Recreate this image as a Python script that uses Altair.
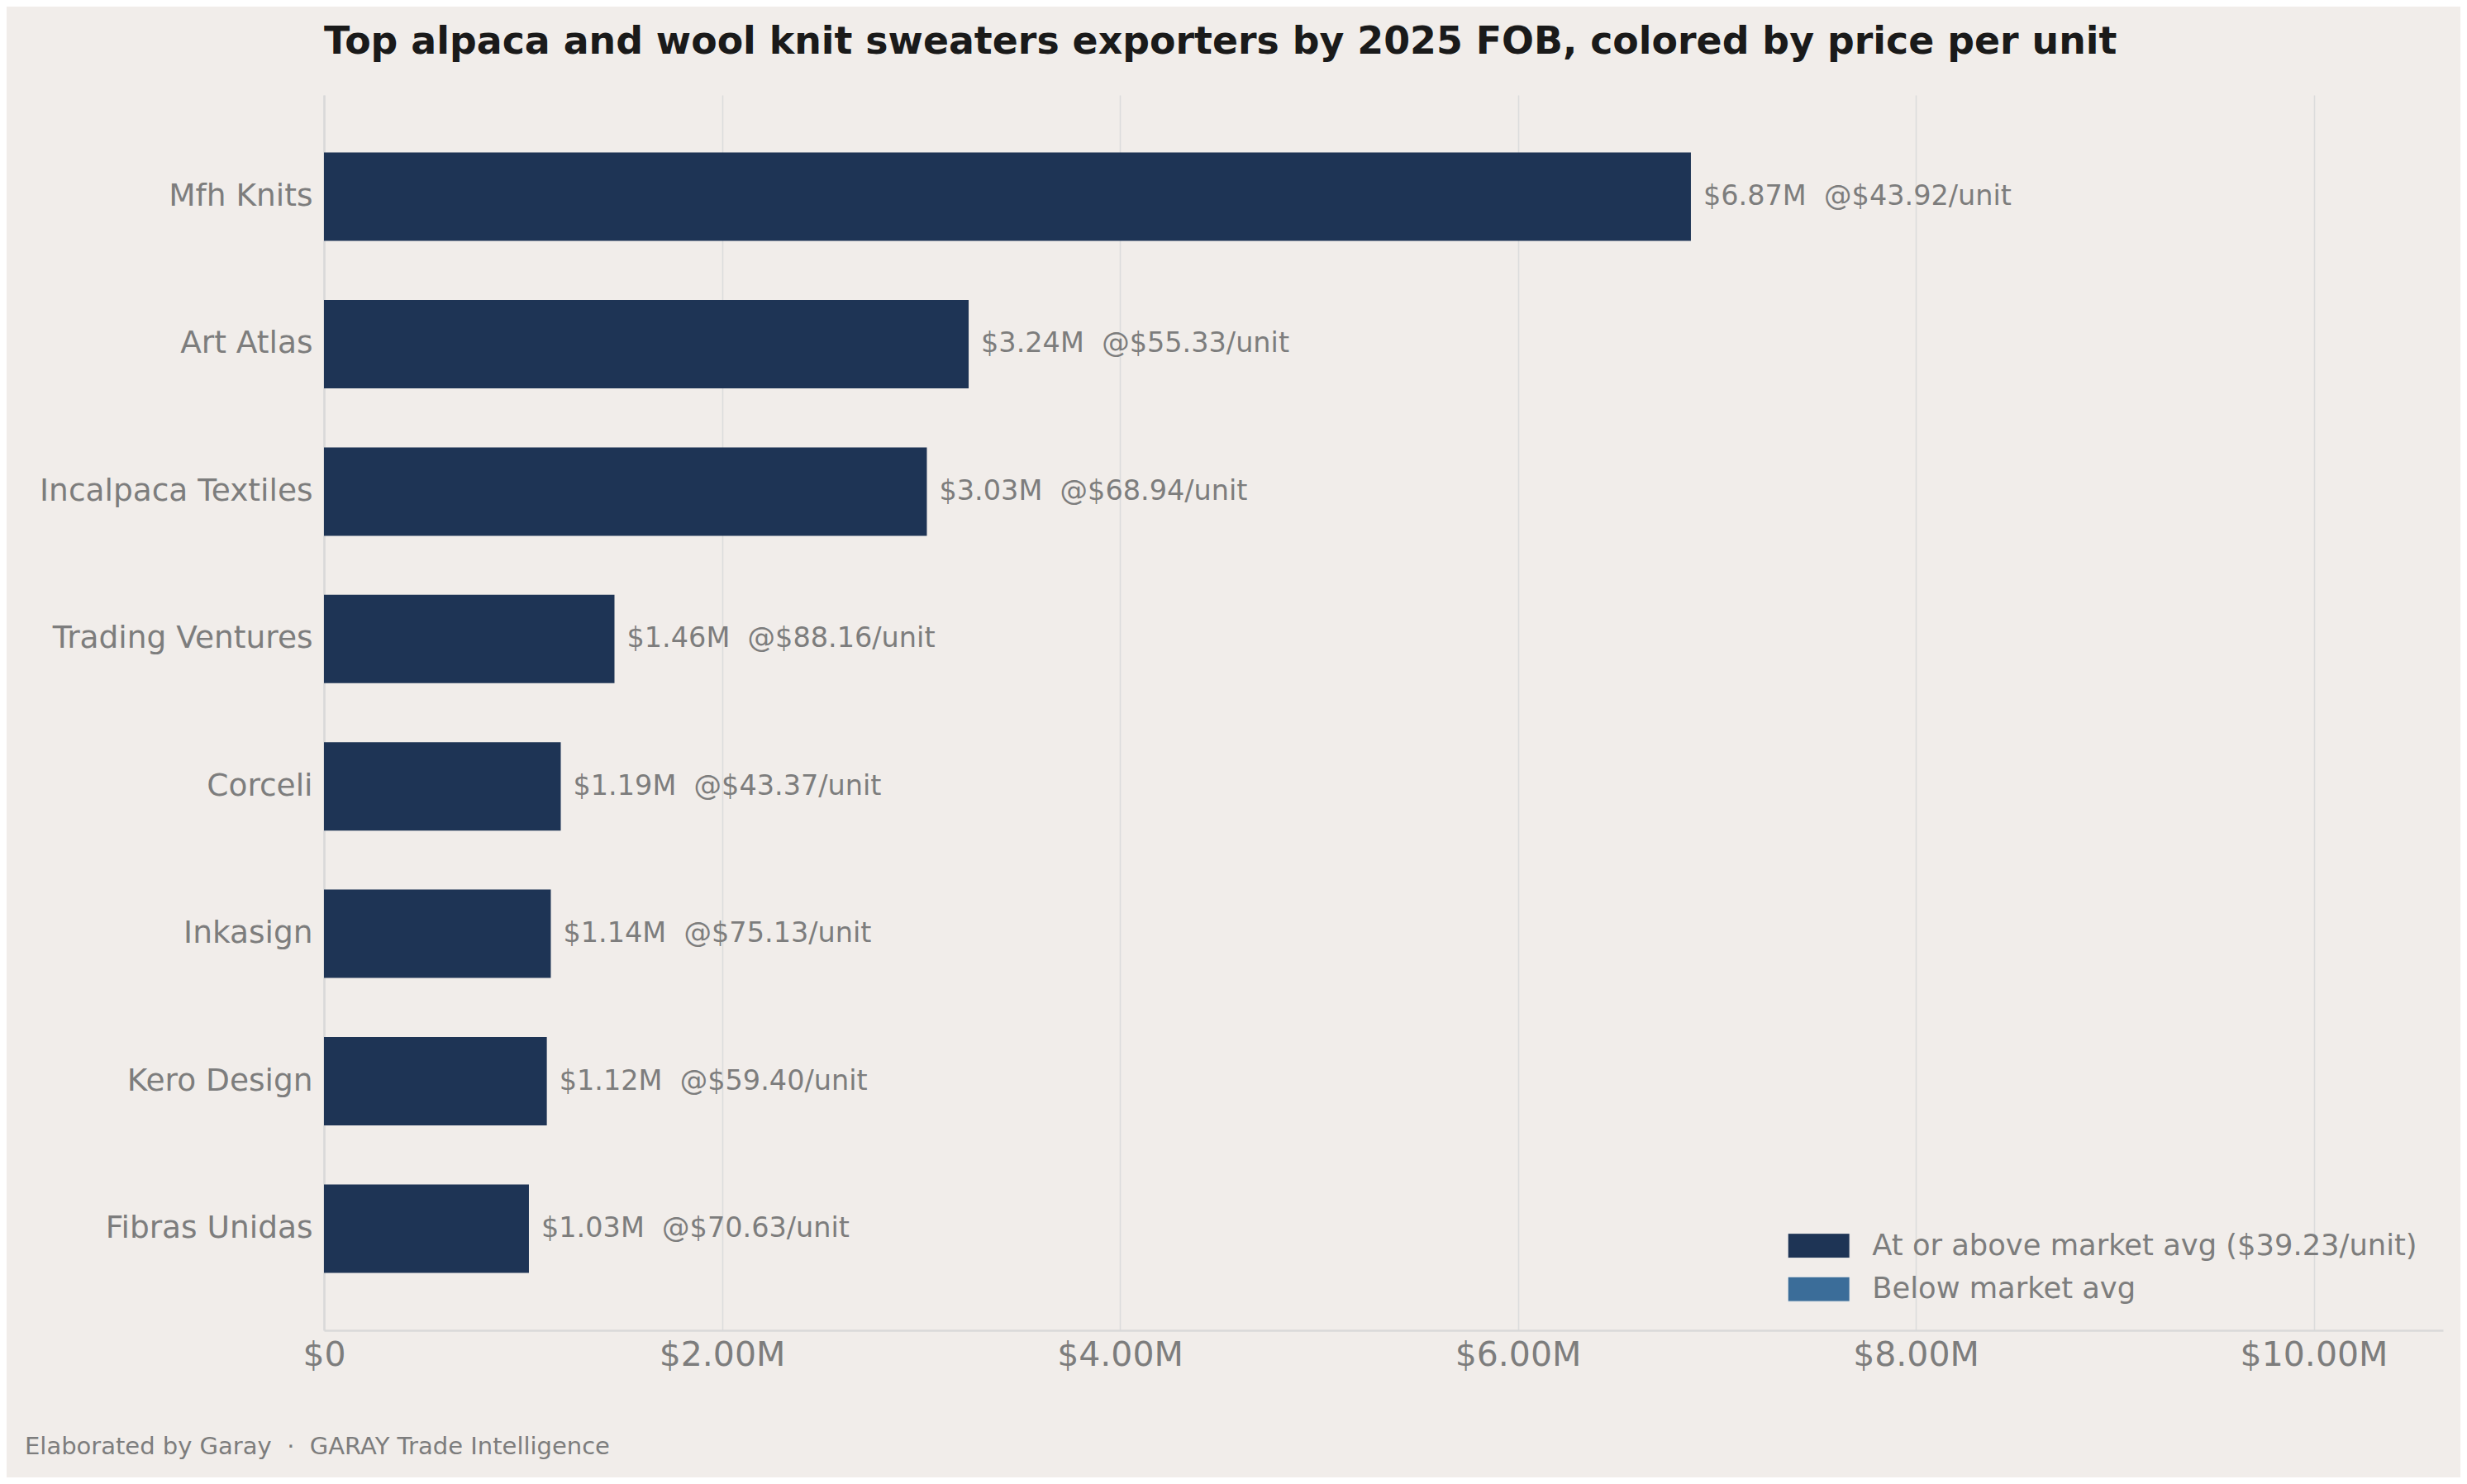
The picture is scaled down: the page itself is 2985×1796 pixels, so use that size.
import altair as alt
import pandas as pd

companies = ["Mfh Knits", "Art Atlas", "Incalpaca Textiles", "Trading Ventures",
             "Corceli", "Inkasign", "Kero Design", "Fibras Unidas"]
fob_musd = [6.87, 3.24, 3.03, 1.46, 1.19, 1.14, 1.12, 1.03]
price_per_unit = [43.92, 55.33, 68.94, 88.16, 43.37, 75.13, 59.40, 70.63]
market_avg = 39.23
x_ticks_musd = [0, 2, 4, 6, 8, 10]

above_label = f"At or above market avg (${market_avg:.2f}/unit)"
below_label = "Below market avg"

df = pd.DataFrame({
    "company": companies,
    "fob": [v * 1e6 for v in fob_musd],
    "price": price_per_unit,
})
df["group"] = [above_label if p >= market_avg else below_label for p in price_per_unit]
df["label"] = [f"${v:.2f}M \u00a0@${p:.2f}/unit" for v, p in zip(fob_musd, price_per_unit)]

footer_df = pd.DataFrame({"t": ["Elaborated by Garay \u00a0·\u00a0 GARAY Trade Intelligence"]})

TEXT_GRAY = "#7d7d7d"
FONT = "DejaVu Sans"

y_enc = alt.Y("company:N", sort=companies, title=None,
              scale=alt.Scale(paddingInner=0.4, paddingOuter=0.39),
              axis=alt.Axis(labelFontSize=37.5, labelColor=TEXT_GRAY, labelFont=FONT,
                            labelPadding=14, labelLimit=1000, ticks=False, domain=True,
                            domainColor="#d9d9d9", domainWidth=2.5, grid=False))
x_enc = alt.X("fob:Q", title=None,
              scale=alt.Scale(domain=[0, 10.65e6], nice=False, zero=True),
              axis=alt.Axis(values=[v * 1e6 for v in x_ticks_musd],
                            labelExpr="datum.value == 0 ? '$0' : '$' + format(datum.value / 1e6, '.2f') + 'M'",
                            labelFontSize=41, labelColor=TEXT_GRAY, labelFont=FONT,
                            labelFlush=False, labelPadding=10, ticks=False, grid=True,
                            gridColor="#dcdcdc", gridWidth=1.5, domain=True,
                            domainColor="#d9d9d9", domainWidth=2.7))

bars = alt.Chart(df).mark_bar(stroke=None).encode(
    y=y_enc,
    x=x_enc,
    color=alt.Color("group:N",
                    scale=alt.Scale(domain=[above_label, below_label],
                                    range=["#1e3455", "#3b6d99"]),
                    legend=alt.Legend(title=None, orient="bottom-right", offset=31,
                                      symbolType="M-2.5,-1H2.5V1H-2.5Z", symbolSize=900,
                                      symbolStrokeColor="#f7f4f2", symbolStrokeWidth=1,
                                      symbolOpacity=1,
                                      labelFontSize=35.3, labelColor=TEXT_GRAY, labelFont=FONT,
                                      labelOffset=47, rowPadding=16.5, padding=0,
                                      labelLimit=1000)),
)

labels = alt.Chart(df).mark_text(align="left", baseline="middle", dx=15,
                                 fontSize=33.5, color=TEXT_GRAY, font=FONT).encode(
    y=alt.Y("company:N", sort=companies),
    x=alt.X("fob:Q"),
    text="label:N",
)

footer = alt.Chart(footer_df).mark_text(align="left", baseline="alphabetic",
                                        fontSize=29, color=TEXT_GRAY, font=FONT).encode(
    x=alt.value(-362),
    y=alt.value(1645),
    text="t:N",
)

chart = alt.layer(bars, labels, footer).properties(
    width=2564,
    height=1495,
    background="#f1edea",
    padding={"left": 384, "top": 107, "right": 21, "bottom": 178},
    autosize=alt.AutoSizeParams(type="none"),
    title=alt.TitleParams(
        "Top alpaca and wool knit sweaters exporters by 2025 FOB, colored by price per unit",
        anchor="start", frame="group", fontSize=45.8, font=FONT, fontWeight="bold",
        color="#1a1a1a", baseline="alphabetic", offset=4),
).configure_view(stroke=None)

chart.save("out.html", embed_options={"renderer": "svg", "actions": False})
